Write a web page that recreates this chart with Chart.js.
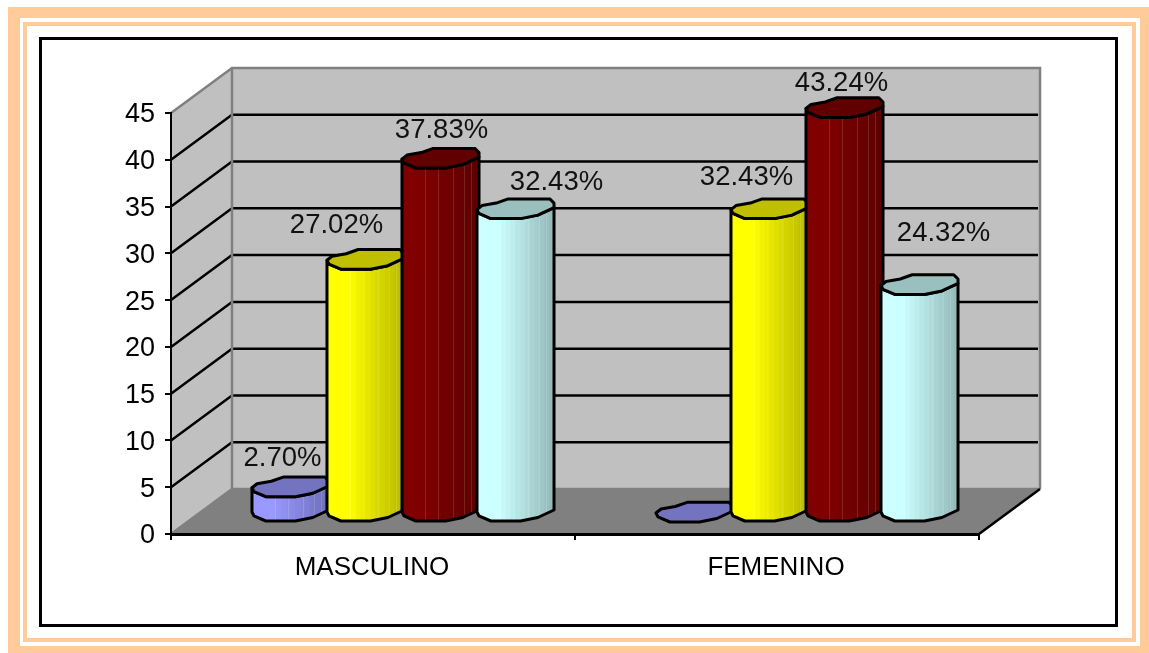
<!DOCTYPE html>
<html><head><meta charset="utf-8">
<script src="https://cdn.jsdelivr.net/npm/chart.js@4/dist/chart.umd.js"></script>
<style>
html,body{margin:0;padding:0;background:#fff;overflow:hidden}
#wrap{position:relative;width:1149px;height:653px}
.f{position:absolute;box-sizing:border-box}
canvas{position:absolute;left:0;top:0}
</style></head><body>
<div id="wrap">
<div class="f" style="left:8px;top:7px;width:1141px;height:646px;border:solid #FFCC99;border-width:11px 9px 7px 12px"></div>
<div class="f" style="left:23px;top:22px;width:1113px;height:620px;border:4px solid #FFCC99"></div>
<div class="f" style="left:39px;top:37px;width:1079px;height:590px;border:3px solid #000"></div>
<canvas id="c" width="1149" height="653"></canvas>
</div>
<script>
const categories = ["MASCULINO", "FEMENINO"];
const serie1 = [2.70, 0];
const serie2 = [27.02, 32.43];
const serie3 = [37.83, 43.24];
const serie4 = [32.43, 24.32];
const yTicks = {min: 0, max: 45, step: 5};
const seriesColors = ["#9999FF", "#FFFF00", "#800000", "#CCFFFF"];

const depth = {dx: 61, dy: -45};
const barShift = {dx: 30, dy: -22};
const capH = 10;
const frontArc = [[-1,.1],[-.95,.48],[-.64,1],[.13,1],[.58,.65],[1,-.1]];
const backArc = [[1,-.55],[.89,-.97],[-.19,-.97],[-.5,-.55],[-.87,-.3]];
const seams = [.3,.47,.66,.8,.9];
const labelNudge = [
  [[-8,-28],null],
  [[-29,-34],[-23,-31]],
  [[1,-28],[-3,-24]],
  [[41,-26],[24,-51]]
];
const FONT = '"Liberation Sans", Arial, sans-serif';

function shade(hex, f){
  const n = parseInt(hex.slice(1),16);
  return `rgb(${Math.round((n>>16&255)*f)},${Math.round((n>>8&255)*f)},${Math.round((n&255)*f)})`;
}
function poly(ctx, pts){
  ctx.beginPath();
  pts.forEach((p,i)=> i ? ctx.lineTo(p[0],p[1]) : ctx.moveTo(p[0],p[1]));
  ctx.closePath();
}
const stage3d = {
  id: 'stage3d',
  beforeDraw(chart){
    const {ctx, chartArea:a, scales:{y}} = chart;
    const d = depth, L=a.left, R=a.right, T=a.top, B=a.bottom;
    ctx.save();
    ctx.lineJoin = 'miter';
    ctx.fillStyle = '#C0C0C0';
    poly(ctx, [[L+d.dx,T+d.dy],[R+d.dx,T+d.dy],[R+d.dx,B+d.dy],[L+d.dx,B+d.dy]]); ctx.fill();
    poly(ctx, [[L,T],[L+d.dx,T+d.dy],[L+d.dx,B+d.dy],[L,B]]); ctx.fill();
    ctx.fillStyle = '#808080';
    poly(ctx, [[L,B],[L+d.dx,B+d.dy],[R+d.dx,B+d.dy],[R,B]]); ctx.fill();
    ctx.strokeStyle = '#000'; ctx.lineWidth = 2.5;
    y.ticks.forEach(t=>{
      if (t.value<=yTicks.min || t.value>=yTicks.max) return;
      const py = y.getPixelForValue(t.value);
      ctx.beginPath(); ctx.moveTo(L,py); ctx.lineTo(L+d.dx,py+d.dy); ctx.lineTo(R+d.dx-2,py+d.dy); ctx.stroke();
    });
    ctx.strokeStyle = '#808080'; ctx.lineWidth = 2.5;
    ctx.beginPath();
    ctx.moveTo(L,T); ctx.lineTo(L+d.dx,T+d.dy); ctx.lineTo(R+d.dx,T+d.dy); ctx.lineTo(R+d.dx,B+d.dy);
    ctx.moveTo(L+d.dx,T+d.dy); ctx.lineTo(L+d.dx,B+d.dy); ctx.lineTo(R+d.dx,B+d.dy);
    ctx.moveTo(L+d.dx,B+d.dy); ctx.lineTo(L,B);
    ctx.stroke();
    ctx.strokeStyle = '#000'; ctx.lineWidth = 2.5;
    ctx.beginPath(); ctx.moveTo(R,B); ctx.lineTo(R+d.dx,B+d.dy); ctx.stroke();
    ctx.restore();
  },
  beforeDatasetDraw(){ return false; },
  afterDatasetsDraw(chart){
    const {ctx} = chart;
    const hw0 = capH;
    ctx.save();
    categories.forEach((_,ci)=>{
      chart.data.datasets.forEach((ds,si)=>{
        const el = chart.getDatasetMeta(si).data[ci];
        const col = ds.backgroundColor;
        const cx = el.x + barShift.dx, hw = el.width/2;
        const topY = el.y + barShift.dy, botY = el.base + barShift.dy;
        const P = (p,cy)=>[cx+p[0]*hw, cy+p[1]*hw0];
        const body = [...frontArc.map(p=>P(p,topY)), ...frontArc.slice().reverse().map(p=>P(p,botY))];
        if (botY-topY>0.5){
          ctx.save();
          poly(ctx, body); ctx.clip();
          const bands = 16;
          for (let i=0;i<bands;i++){
            const t=(i+.5)/bands;
            const f = t<.28 ? 1 : 1-(t-.28)/.72*.28;
            ctx.fillStyle = shade(col,f);
            ctx.fillRect(cx-hw+2*hw*i/bands, topY-hw0, 2*hw/bands+1, botY-topY+3*hw0);
          }
          ctx.fillStyle='rgba(255,255,255,.13)';
          seams.forEach(t=>ctx.fillRect(Math.round(cx-hw+2*hw*t), topY-hw0, 1, botY-topY+3*hw0));
          ctx.restore();
          ctx.strokeStyle='#000'; ctx.lineWidth=3; ctx.lineJoin='round';
          poly(ctx, body); ctx.stroke();
        }
        const cap = [...frontArc, ...backArc].map(p=>P(p,topY));
        poly(ctx, cap);
        ctx.fillStyle = shade(col,.75); ctx.fill();
        ctx.strokeStyle='#000'; ctx.lineWidth=3; ctx.lineJoin='round'; ctx.stroke();
      });
    });
    ctx.fillStyle='#111';
    ctx.font = '27.5px '+FONT;
    ctx.textAlign='center'; ctx.textBaseline='middle';
    chart.data.datasets.forEach((ds,si)=>{
      ds.data.forEach((v,ci)=>{
        const n = labelNudge[si][ci];
        if (!n) return;
        const el = chart.getDatasetMeta(si).data[ci];
        ctx.fillText(v.toFixed(2)+'%', el.x+barShift.dx+n[0], el.y+barShift.dy+n[1]);
      });
    });
    ctx.restore();
  }
};
new Chart(document.getElementById('c'), {
  type:'bar',
  data:{labels:categories, datasets:[serie1,serie2,serie3,serie4].map((d,i)=>({
    label:'Serie '+(i+1), data:d, backgroundColor:seriesColors[i],
    categoryPercentage:.7426, barPercentage:1.027
  }))},
  plugins:[stage3d],
  options:{
    responsive:false, animation:false,
    layout:{padding:{left:0,top:113,right:170,bottom:59}},
    plugins:{legend:{display:false},tooltip:{enabled:false},title:{display:false}},
    scales:{
      x:{
        afterFit(s){s.height=60;},
        border:{color:'#000',width:3},
        grid:{drawOnChartArea:false,color:'#000',lineWidth:2,tickLength:6},
        ticks:{color:'#000',font:{family:FONT,size:26},padding:12,maxRotation:0,labelOffset:-1}
      },
      y:{
        min:yTicks.min,max:yTicks.max,
        afterFit(s){s.width=171;},
        border:{color:'#000',width:2},
        grid:{drawOnChartArea:false,color:'#000',lineWidth:2,tickLength:6},
        ticks:{color:'#000',font:{family:FONT,size:27},stepSize:yTicks.step,padding:10,labelOffset:2}
      }
    }
  }
});
</script>
</body></html>
